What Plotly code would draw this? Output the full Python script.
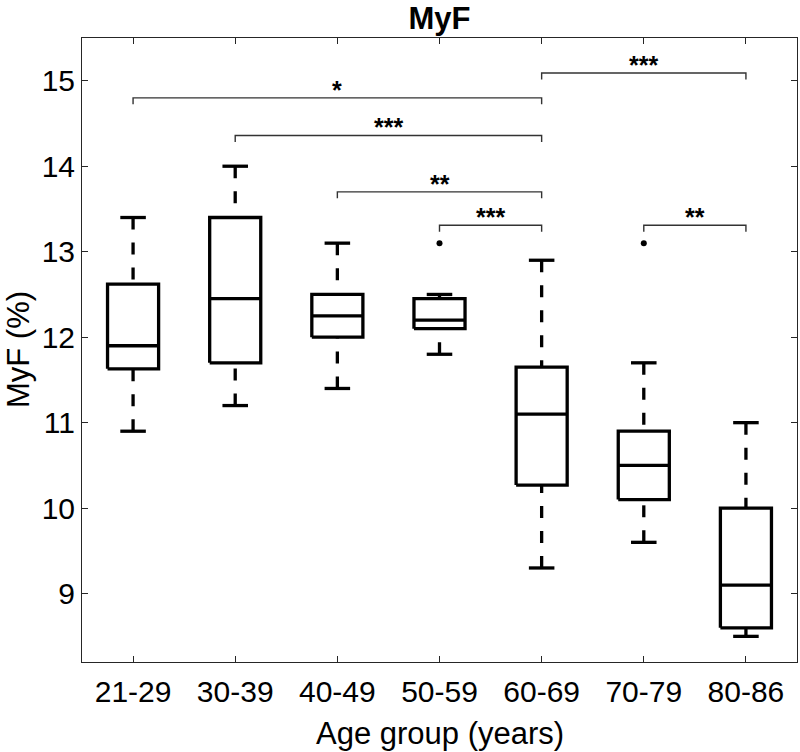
import plotly.graph_objects as go

# ---- data ----
groups = ["21-29", "30-39", "40-49", "50-59", "60-69", "70-79", "80-86"]
upper_whisker = [13.4, 14.0, 13.1, 12.5, 12.9, 11.7, 11.0]
q3 = [12.62, 13.4, 12.5, 12.45, 11.65, 10.9, 10.0]
median = [11.9, 12.45, 12.25, 12.2, 11.1, 10.5, 9.1]
q1 = [11.63, 11.7, 12.0, 12.1, 10.27, 10.1, 8.6]
lower_whisker = [10.9, 11.2, 11.4, 11.8, 9.3, 9.6, 8.5]
outlier_group = ["50-59", "70-79"]
outlier_value = [13.1, 13.1]

sig_from = ["21-29", "30-39", "40-49", "50-59", "60-69", "70-79"]
sig_to = ["60-69", "60-69", "60-69", "60-69", "80-86", "80-86"]
sig_level = [14.80, 14.36, 13.70, 13.31, 15.09, 13.31]
sig_label = ["*", "***", "**", "***", "***", "**"]

yticks = [9, 10, 11, 12, 13, 14, 15]

# ---- geometry helpers (category index positions) ----
pos = {g: i + 1 for i, g in enumerate(groups)}
half_box = 0.25
half_cap = 0.125
drop = 0.076

box_x, box_y = [], []
med_x, med_y = [], []
whisk_x, whisk_y = [], []
cap_x, cap_y = [], []
for g, lw, a, m, b, uw in zip(groups, lower_whisker, q1, median, q3, upper_whisker):
    c = pos[g]
    box_x += [c - half_box, c + half_box, c + half_box, c - half_box, c - half_box, None]
    box_y += [a, a, b, b, a, None]
    med_x += [c - half_box, c + half_box, None]
    med_y += [m, m, None]
    whisk_x += [c, c, None, c, c, None]
    whisk_y += [uw, b, None, lw, a, None]
    cap_x += [c - half_cap, c + half_cap, None, c - half_cap, c + half_cap, None]
    cap_y += [uw, uw, None, lw, lw, None]

br_x, br_y = [], []
for f, t, lv in zip(sig_from, sig_to, sig_level):
    br_x += [pos[f], pos[f], pos[t], pos[t], None]
    br_y += [lv - drop, lv, lv, lv - drop, None]

fig = go.Figure()
fig.add_trace(go.Scatter(x=whisk_x, y=whisk_y, mode="lines",
                         line=dict(color="black", width=3.3, dash="12px,13px"), hoverinfo="skip"))
fig.add_trace(go.Scatter(x=cap_x, y=cap_y, mode="lines",
                         line=dict(color="black", width=3.3), hoverinfo="skip"))
fig.add_trace(go.Scatter(x=box_x, y=box_y, mode="lines",
                         line=dict(color="black", width=3.3), hoverinfo="skip"))
fig.add_trace(go.Scatter(x=med_x, y=med_y, mode="lines",
                         line=dict(color="black", width=3.3), hoverinfo="skip"))
fig.add_trace(go.Scatter(x=[pos[g] for g in outlier_group], y=outlier_value, mode="markers",
                         marker=dict(color="black", size=6), hoverinfo="skip"))
fig.add_trace(go.Scatter(x=br_x, y=br_y, mode="lines",
                         line=dict(color="#333333", width=1.4), hoverinfo="skip"))

for f, t, lv, lab in zip(sig_from, sig_to, sig_level, sig_label):
    fig.add_annotation(x=(pos[f] + pos[t]) / 2, y=lv, yshift=8, text="<b>" + lab + "</b>",
                       showarrow=False, yanchor="middle", xanchor="center",
                       font=dict(size=25, color="black"))

# axis labels
fig.add_annotation(x=0.5, y=0, xref="paper", yref="paper", yshift=-71, text="Age group (years)",
                   showarrow=False, xanchor="center", yanchor="middle", font=dict(size=31, color="black"))
fig.add_annotation(x=0, y=0.5, xref="paper", yref="paper", xshift=-64, text="MyF (%)", textangle=-90,
                   showarrow=False, xanchor="center", yanchor="middle", font=dict(size=31, color="black"))

axis_common = dict(showline=True, linecolor="#262626", linewidth=1, mirror="allticks",
                   ticks="inside", ticklen=6, tickwidth=1, tickcolor="#262626", automargin=False,
                   showgrid=False, zeroline=False, tickfont=dict(size=30, color="black"))

fig.update_layout(
    width=800, height=752,
    margin=dict(l=82, r=3, t=38, b=90),
    plot_bgcolor="white", paper_bgcolor="white", showlegend=False,
    font=dict(family="Liberation Sans, Arial, sans-serif", color="black"),
    title=dict(text="<b>MyF</b>", x=439.5 / 800, xanchor="center", y=1 - 18 / 752,
               yanchor="middle", font=dict(size=31, color="black")),
    xaxis=dict(range=[0.5, 7.5], tickmode="array", tickvals=list(range(1, len(groups) + 1)),
               ticktext=groups, ticklabelstandoff=3, **axis_common),
    yaxis=dict(range=[8.2, 15.5], tickmode="array", tickvals=yticks,
               ticktext=[str(v) for v in yticks], **axis_common),
)

fig.write_html("out.html", config={"displayModeBar": False},
               post_script="document.body.style.margin='0px';")
